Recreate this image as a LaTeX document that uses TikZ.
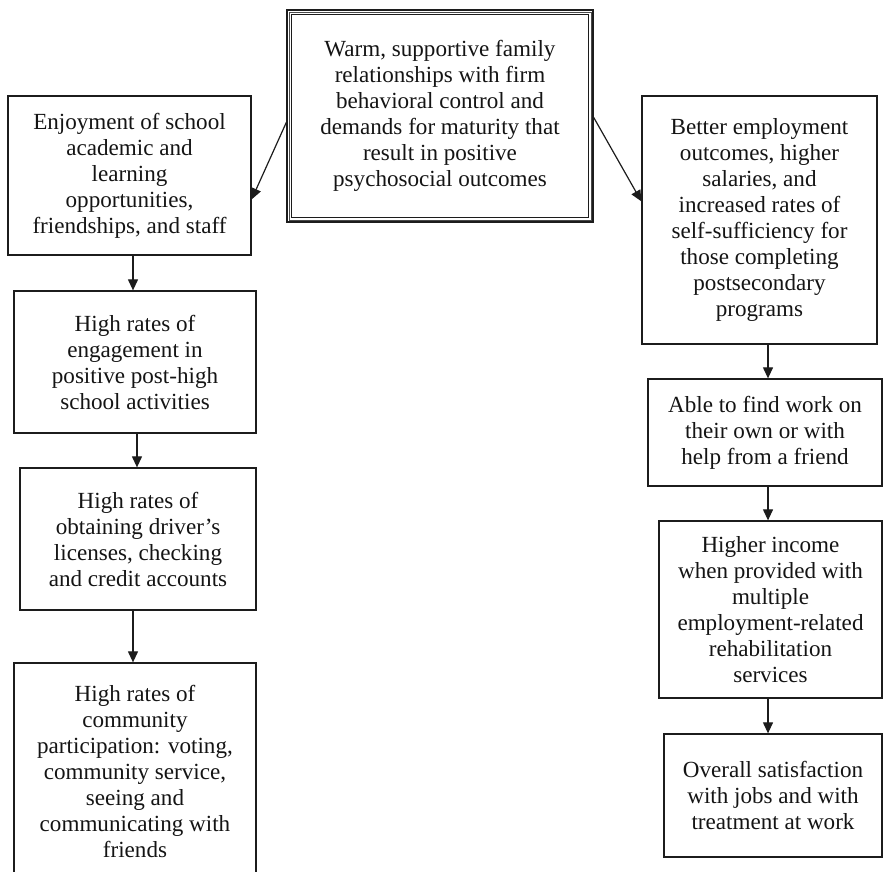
\documentclass[tikz,border=0pt]{standalone}
\usepackage{fontspec}
\setmainfont{Liberation Serif}
\usetikzlibrary{arrows.meta}
\definecolor{linecol}{HTML}{1C1C1C}
\definecolor{textcol}{HTML}{141414}

\begin{document}
\begin{tikzpicture}[x=1pt,y=-1pt,
  box/.style={draw=linecol, line width=1.3pt, align=center, inner sep=0pt,
    text=textcol, font=\fontsize{23.1}{26}\selectfont},
  arr/.style={draw=linecol, line width=1.2pt, -{Triangle[length=11pt,width=10pt]}}]
\useasboundingbox (0,0) rectangle (883,871);
\clip (0,0) rectangle (883,871);

% central box with a triple frame
\node[box, minimum width=306pt, minimum height=212pt] (top) at (440,116)
  {Warm, supportive family\\relationships with firm\\behavioral control and\\demands for maturity that\\result in positive\\psychosocial outcomes};
\draw[linecol!80, line width=0.7pt] ([shift={(2.6pt,-2.6pt)}]top.north west) rectangle ([shift={(-2.6pt,2.6pt)}]top.south east);
\draw[linecol, line width=1.3pt] ([shift={(5.2pt,-5.2pt)}]top.north west) rectangle ([shift={(-5.2pt,5.2pt)}]top.south east);

% left column
\node[box, minimum width=243pt, minimum height=159pt] (L1) at (129.5,175.5)
  {Enjoyment of school\\academic and\\learning\\opportunities,\\friendships, and staff};
\node[box, minimum width=242pt, minimum height=142pt] (L2) at (135,362)
  {High rates of\\engagement in\\positive post-high\\school activities};
\node[box, minimum width=236pt, minimum height=142pt] (L3) at (138,539)
  {High rates of\\obtaining driver’s\\licenses, checking\\and credit accounts};
\node[box, minimum width=242pt, minimum height=217pt] (L4) at (135,771.5)
  {High rates of\\community\\participation: voting,\\community service,\\seeing and\\communicating with\\friends};

% right column
\node[box, minimum width=235pt, minimum height=248pt] (R1) at (759.5,220)
  {Better employment\\outcomes, higher\\salaries, and\\increased rates of\\self-sufficiency for\\those completing\\postsecondary\\programs};
\node[box, minimum width=234pt, minimum height=107pt] (R2) at (765,432.5)
  {Able to find work on\\their own or with\\help from a friend};
\node[box, minimum width=223pt, minimum height=177pt] (R3) at (770.5,609.5)
  {Higher income\\when provided with\\multiple\\employment-related\\rehabilitation\\services};
\node[box, minimum width=218pt, minimum height=123pt] (R4) at (773,795.5)
  {Overall satisfaction\\with jobs and with\\treatment at work};

% connector columns
\coordinate (c1) at (133,0);
\coordinate (c2) at (137,0);
\coordinate (c3) at (133,0);
\coordinate (rc) at (768,0);

% connectors
\draw[arr] ([yshift=-113pt]top.north west) -- ([yshift=-104pt]L1.north east);
\draw[arr] ([yshift=-108pt]top.north east) -- ([yshift=-106pt]R1.north west);
\draw[arr] (L1.south -| c1) -- (L2.north -| c1);
\draw[arr] (L2.south -| c2) -- (L3.north -| c2);
\draw[arr] (L3.south -| c3) -- (L4.north -| c3);
\draw[arr] (R1.south -| rc) -- (R2.north -| rc);
\draw[arr] (R2.south -| rc) -- (R3.north -| rc);
\draw[arr] (R3.south -| rc) -- (R4.north -| rc);
\end{tikzpicture}
\end{document}
